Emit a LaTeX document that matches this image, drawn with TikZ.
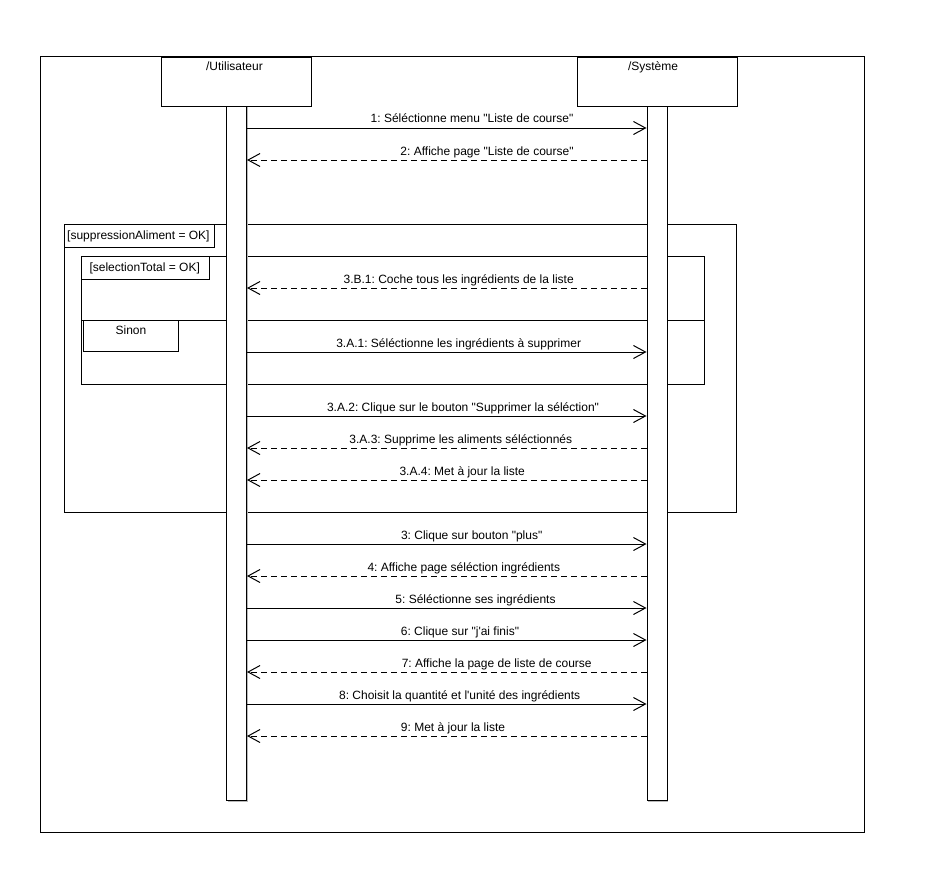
\documentclass[tikz,border=0pt]{standalone}
\usepackage{fontspec}
\newfontfamily\lsans{Liberation Sans}
\usetikzlibrary{arrows.meta}
\begin{document}
\frenchspacing
\begin{tikzpicture}[x=1pt,y=-1pt,line width=1pt,
  every node/.style={font=\lsans\fontsize{12}{14}\selectfont, inner sep=0pt},
  lifebox/.style={draw, fill=white, anchor=north west, minimum height=49},
  actbar/.style={draw, fill=white, anchor=north west, minimum width=20, minimum height=694},
  shade/.style={fill=black!28},
  lbl/.style={anchor=base},
  call/.style={-{Straight Barb[length=12pt,width=13pt]}},
  reply/.style={dash pattern=on 6pt off 4pt, -{Straight Barb[length=12pt,width=13pt]}},
  guard/.style={draw, fill=white}]
\useasboundingbox (0,0) rectangle (936,888);

% diagram frame
\draw (40.5,57) rectangle (864,832);

% combined fragments
\draw (64.5,224.5) rectangle (736.5,512.5);
\draw[guard] (64.5,224.5) rectangle (214,247);
\node[anchor=base west] (g1) at (66.7,239) {[suppressionAliment = OK]};

\draw (81.5,256.5) rectangle (704.5,384.5);
\draw (81.5,320.5) -- (704.5,320.5);
\draw[guard] (81.5,256.5) rectangle (209,279);
\node[anchor=base west] (g2) at (89,271) {[selectionTotal = OK]};
\draw[guard] (83,320.5) rectangle (178,351);
\node[anchor=base] (g3) at (131,334) {Sinon};

% lifeline heads
\fill[shade] (162,59) rectangle (312,107.5);
\fill[shade] (578,59) rectangle (738,107.5);
\node[lifebox, minimum width=150] (user) at (160.5,57) {};
\node[lifebox, minimum width=160] (sys) at (576.5,57) {};
\node[anchor=base] (userlbl) at (234.5,71) {/Utilisateur};
\node[anchor=base] (syslbl) at (653,71) {/Système};

% activation bars
\fill[shade] (227.5,107.5) rectangle (247.5,801.5);
\fill[shade] (648,107.5) rectangle (668,801.5);
\node[actbar] (ubar) at (226,106) {};
\node[actbar] (sbar) at (646.5,106) {};

% messages
\draw[call] (ubar.east |- 0,128) -- (sbar.west |- 0,128);
\node[lbl] (m1) at (472,123) {1: Séléctionne menu "Liste de course"};
\draw[reply] (sbar.west |- 0,160) -- (ubar.east |- 0,160);
\node[lbl] (m2) at (487,155) {2: Affiche page "Liste de course"};

\draw[reply] (sbar.west |- 0,288) -- (ubar.east |- 0,288);
\node[lbl] (m3b1) at (458.7,283) {3.B.1: Coche tous les ingrédients de la liste};
\draw[call] (ubar.east |- 0,352) -- (sbar.west |- 0,352);
\node[lbl] (m3a1) at (458.7,347) {3.A.1: Séléctionne les ingrédients à supprimer};
\draw[call] (ubar.east |- 0,416) -- (sbar.west |- 0,416);
\node[lbl] (m3a2) at (463,411) {3.A.2: Clique sur le bouton "Supprimer la séléction"};
\draw[reply] (sbar.west |- 0,448) -- (ubar.east |- 0,448);
\node[lbl] (m3a3) at (460.8,443) {3.A.3: Supprime les aliments séléctionnés};
\draw[reply] (sbar.west |- 0,480) -- (ubar.east |- 0,480);
\node[lbl] (m3a4) at (462.2,475) {3.A.4: Met à jour la liste};

\draw[call] (ubar.east |- 0,544) -- (sbar.west |- 0,544);
\node[lbl] (m3) at (471.7,539) {3: Clique sur bouton "plus"};
\draw[reply] (sbar.west |- 0,576) -- (ubar.east |- 0,576);
\node[lbl] (m4) at (463.8,571) {4: Affiche page séléction ingrédients};
\draw[call] (ubar.east |- 0,608) -- (sbar.west |- 0,608);
\node[lbl] (m5) at (475.5,603) {5: Séléctionne ses ingrédients};
\draw[call] (ubar.east |- 0,640) -- (sbar.west |- 0,640);
\node[lbl] (m6) at (460,635) {6: Clique sur "j'ai finis"};
\draw[reply] (sbar.west |- 0,672) -- (ubar.east |- 0,672);
\node[lbl] (m7) at (496.7,667) {7: Affiche la page de liste de course};
\draw[call] (ubar.east |- 0,704) -- (sbar.west |- 0,704);
\node[lbl] (m8) at (459.7,699) {8: Choisit la quantité et l'unité des ingrédients};
\draw[reply] (sbar.west |- 0,736) -- (ubar.east |- 0,736);
\node[lbl] (m9) at (453,731) {9: Met à jour la liste};
\end{tikzpicture}
\end{document}
